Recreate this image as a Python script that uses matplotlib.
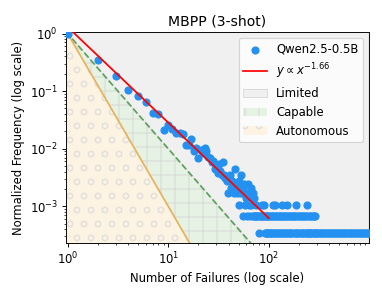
import numpy as np
import matplotlib
matplotlib.use("Agg")
import matplotlib.pyplot as plt

# ── data ─────────────────────────────────────────────────────────────────────
TOTAL = 2900  # count at x = 1, used to normalise

x_head = [1, 2, 3, 4, 5, 6, 7, 8, 9, 10, 11, 12, 13, 14, 15, 16, 17, 18, 19, 20,
          21, 22, 23, 24, 25, 26, 27, 28, 29, 30, 31, 32, 33, 34, 35, 36, 37, 38,
          39, 40, 41, 42, 43, 44, 45, 46, 47, 48, 49, 50, 52, 53, 54, 56, 57, 59,
          60, 62, 64, 66, 68, 70, 72]
n_head = [2900, 1012, 534, 299, 240, 185, 123, 118, 62, 75, 65, 55, 54, 52, 34, 33,
          42, 26, 30, 20, 28, 24, 30, 26, 21, 20, 17, 18, 13, 15, 11, 16, 12, 10,
          17, 10, 9, 8, 5, 9, 10, 6, 8, 7, 5, 13, 7, 5, 6, 8, 5, 10, 5, 6, 7, 5,
          4, 7, 5, 6, 4, 5, 4]

# failures seen three times
x_three = [51, 58, 63, 67, 75, 85, 90, 110, 115, 134, 150, 188, 240]
# failures seen twice
x_two = [55, 61, 65, 69, 71, 73, 74, 76, 78, 82, 84, 86, 88, 92, 94, 96, 98, 101,
         104, 107, 111, 114, 118, 121, 125, 129, 133, 137, 141, 146, 151, 156, 161,
         166, 172, 178, 184, 191, 198, 205, 212, 220, 228, 236, 245, 254, 263, 272,
         281, 287]
# failures seen once
x_one = [80, 91, 93, 95, 97, 100, 102, 105, 108, 112, 116, 119, 122, 126, 130, 135,
         139, 143, 147, 152, 157, 163, 168, 174, 180, 186, 192, 199, 206, 213, 219,
         226, 233, 239, 246, 251, 258, 265, 270, 278, 285, 292, 300, 310, 320, 330,
         340, 352, 364, 376, 389, 402, 415, 429, 443, 458, 473, 489, 505, 522, 539,
         557, 576, 595, 615, 635, 656, 678, 700, 723, 747, 772, 798, 825, 852, 880,
         909, 939, 970, 990]

FIT_EXP = -1.66
FIT_COEF = 1.3
FIT_XMAX = 100

xs = x_head + x_three + x_two + x_one
ys = ([n / TOTAL for n in n_head] + [3 / TOTAL] * len(x_three)
      + [2 / TOTAL] * len(x_two) + [1 / TOTAL] * len(x_one))

# ── plot ─────────────────────────────────────────────────────────────────────
fig = plt.figure(figsize=(382 / 84, 297 / 84), dpi=84)
ax = fig.add_axes([0.1728, 0.1818, 0.966 - 0.1728, 0.892 - 0.1818])

XMIN, XMAX = 0.965, 990
YMIN, YMAX = 2.3e-4, 1.06

xx = np.logspace(np.log10(XMIN), np.log10(XMAX), 400)
ax.fill_between(xx, xx ** -2.0, 10, facecolor="#f0f0f0", edgecolor="#d8d8d8",
                linewidth=0.8, label="Limited", zorder=0)
ax.fill_between(xx, xx ** -3.0, xx ** -2.0, facecolor="#e6f2e4", edgecolor="#d9dcd9",
                hatch="+", linewidth=0, label="Capable", zorder=0)
ax.fill_between(xx, 1e-6, xx ** -3.0, facecolor="#fdf3e3", edgecolor="#e2e0dc",
                hatch="o", linewidth=0, label="Autonomous", zorder=0)

ax.plot(xx, xx ** -2.0, color="#5f9f5f", ls="--", lw=1.5, zorder=1)
ax.plot(xx, xx ** -3.0, color="#e6b35c", lw=1.5, zorder=1)

ax.scatter(xs, ys, s=36, color="#2490f0", zorder=3, label="Qwen2.5-0.5B")

xf = np.logspace(0, np.log10(FIT_XMAX), 100)
ax.plot(xf, FIT_COEF * xf ** FIT_EXP, color="red", lw=1.5, zorder=4,
        label=r"$y \propto x^{-1.66}$")

ax.set_xscale("log")
ax.set_yscale("log")
ax.set_xlim(XMIN, XMAX)
ax.set_ylim(YMIN, YMAX)
ax.set_xlabel("Number of Failures (log scale)")
ax.set_ylabel("Normalized Frequency (log scale)")
ax.set_title("MBPP (3-shot)")

handles, labels = ax.get_legend_handles_labels()
order = [labels.index(k) for k in
         ["Qwen2.5-0.5B", r"$y \propto x^{-1.66}$", "Limited", "Capable", "Autonomous"]]
ax.legend([handles[i] for i in order], [labels[i] for i in order], loc="upper right")

fig.savefig("out.png", dpi=84)
